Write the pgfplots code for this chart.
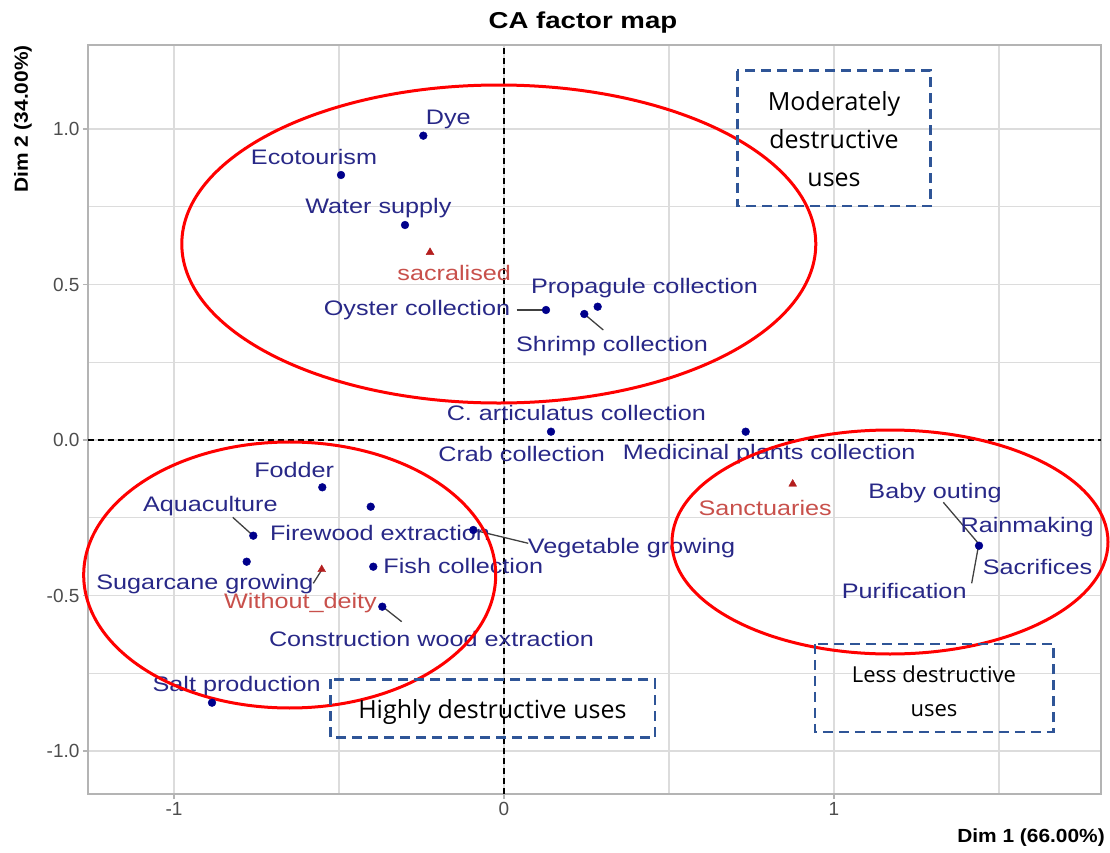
\documentclass[border=0pt]{standalone}
\usepackage{pgfplots}
\pgfplotsset{compat=1.18}
\usepackage{fontspec}
\usepackage{graphicx}
\setmainfont{Liberation Sans}
\newfontfamily\boxfont{Open Sans}
\definecolor{dotblue}{RGB}{0,0,139}
\definecolor{labblue}{RGB}{40,40,135}
\definecolor{trired}{RGB}{180,30,30}
\definecolor{labred}{RGB}{200,80,75}
\definecolor{boxblue}{RGB}{47,85,151}
\definecolor{gridgray}{RGB}{220,220,220}
\definecolor{bordergray}{RGB}{180,180,180}
\definecolor{ticktext}{RGB}{77,77,77}
\newcommand{\lab}[1]{\scalebox{1.2}[1]{\fontsize{21}{24}\selectfont #1}}
\newcommand{\boxtxt}[1]{\fontsize{25}{38}\selectfont\boxfont #1}

\pgfplotstableread{
x y
-0.2445 0.9785
-0.4939 0.8521
-0.3000 0.6913
0.1273 0.4180
0.2839 0.4286
0.2433 0.4051
0.1424 0.0267
0.7324 0.0267
1.4394 -0.3399
-0.5506 -0.1521
-0.4039 -0.2145
-0.0930 -0.2894
-0.7597 -0.3077
-0.7797 -0.3913
-0.3961 -0.4074
-0.3688 -0.5360
-0.8848 -0.8447
}\rowpts

\pgfplotstableread{
x y
-0.2242 0.6035
0.8748 -0.1415
-0.5524 -0.4164
}\colpts

\begin{document}
\begin{tikzpicture}[x=1pt,y=1pt]
\useasboundingbox (-88,-58) rectangle (1022,794);
\begin{axis}[
  anchor=south west, at={(0pt,0pt)}, scale only axis,
  width=1013pt, height=749pt,
  xmin=-1.2606, xmax=1.8091, ymin=-1.1383, ymax=1.2701,
  xtick={-1,0,1}, xticklabels={-1,0,1},
  ytick={-1,-0.5,0,0.5,1}, yticklabels={-1.0,-0.5,0.0,0.5,1.0},
  minor xtick={-0.5,0.5,1.5}, minor ytick={-0.75,-0.25,0.25,0.75},
  grid=both,
  major grid style={line width=1.3pt, color=gridgray},
  minor grid style={line width=1.1pt, color=gridgray},
  tick align=outside, major tick length=5pt, minor tick length=0pt,
  xtick pos=bottom, ytick pos=left,
  tick style={line width=1.2pt, color=bordergray},
  axis line style={line width=1.3pt, color=bordergray},
  ticklabel style={font=\fontsize{19}{21}\selectfont, text=ticktext},
  clip=false,
]
% zero reference lines
\addplot[black, line width=1.4pt, dash pattern=on 6pt off 4pt] coordinates {(0,-1.1383) (0,1.2701)};
\addplot[black, line width=1.4pt, dash pattern=on 6pt off 4pt] coordinates {(-1.2606,0) (1.8091,0)};

% points
\addplot[only marks, mark=*, mark size=3.9pt, mark options={draw=dotblue, fill=dotblue}] table {\rowpts};
\addplot[only marks, mark=triangle*, mark size=4.5pt, mark options={draw=trired, fill=trired}] table {\colpts};

% leader lines
\draw[black!75, line width=1.3pt] (axis cs:0.0385,0.418) -- (axis cs:0.1242,0.418);
\draw[black!75, line width=1.3pt] (axis cs:0.2433,0.4051) -- (axis cs:0.3009,0.3537);
\draw[black!75, line width=1.3pt] (axis cs:1.3312,-0.2003) -- (axis cs:1.4373,-0.3322);
\draw[black!75, line width=1.3pt] (axis cs:1.4373,-0.3431) -- (axis cs:1.4172,-0.4608);
\draw[black!75, line width=1.3pt] (axis cs:-0.8221,-0.2486) -- (axis cs:-0.7615,-0.3064);
\draw[black!75, line width=1.3pt] (axis cs:-0.5524,-0.418) -- (axis cs:-0.5779,-0.4608);
\draw[black!75, line width=1.3pt] (axis cs:-0.3676,-0.536) -- (axis cs:-0.3100,-0.5842);
\draw[black!75, line width=1.3pt] (axis cs:-0.093,-0.2894) -- (axis cs:0.0736,-0.3322);

% row labels
\begin{scope}[every node/.style={text=labblue, inner sep=0pt}]
\node at (axis cs:-0.1688,1.0312) {\lab{Dye}};
\node at (axis cs:-0.5758,0.9109) {\lab{Ecotourism}};
\node at (axis cs:-0.3808,0.7450) {\lab{Water supply}};
\node at (axis cs:-0.2636,0.4180) {\lab{Oyster collection}};
\node at (axis cs:0.4258,0.4878) {\lab{Propagule collection}};
\node at (axis cs:0.3273,0.3023) {\lab{Shrimp collection}};
\node at (axis cs:0.2192,0.0857) {\lab{C. articulatus collection}};
\node at (axis cs:0.0535,-0.0450) {\lab{Crab collection}};
\node at (axis cs:0.8035,-0.0450) {\lab{Medicinal plants collection}};
\node at (axis cs:1.3061,-0.1715) {\lab{Baby outing}};
\node at (axis cs:1.5854,-0.2787) {\lab{Rainmaking}};
\node at (axis cs:1.6167,-0.4073) {\lab{Sacrifices}};
\node at (axis cs:1.2127,-0.4855) {\lab{Purification}};
\node at (axis cs:-0.6358,-0.0965) {\lab{Fodder}};
\node at (axis cs:-0.8899,-0.2122) {\lab{Aquaculture}};
\node at (axis cs:-0.3758,-0.2980) {\lab{Firewood extraction}};
\node at (axis cs:0.3864,-0.3473) {\lab{Vegetable growing}};
\node at (axis cs:-0.9061,-0.4630) {\lab{Sugarcane growing}};
\node at (axis cs:-0.1233,-0.4051) {\lab{Fish collection}};
\node at (axis cs:-0.2197,-0.6409) {\lab{Construction wood extraction}};
\node at (axis cs:-0.8100,-0.7910) {\lab{Salt production}};
\end{scope}
% column labels
\begin{scope}[every node/.style={text=labred, inner sep=0pt}]
\node at (axis cs:-0.1509,0.5360) {\lab{sacralised}};
\node at (axis cs:0.7915,-0.2197) {\lab{Sanctuaries}};
\node at (axis cs:-0.6167,-0.5252) {\lab{Without\_deity}};
\end{scope}

% ellipses
\draw[red, line width=3pt] (axis cs:-0.0158,0.6302) ellipse [x radius=317pt, y radius=159pt];
\draw[red, line width=3pt] (axis cs:-0.6494,-0.4341) ellipse [x radius=206pt, y radius=133pt];
\draw[red, line width=3pt] (axis cs:1.1697,-0.3280) ellipse [x radius=218pt, y radius=112pt];

% dashed boxes
\draw[boxblue, line width=2.5pt, dash pattern=on 10pt off 6pt] (axis cs:0.7070,1.1875) rectangle (axis cs:1.2930,0.7524);
\draw[boxblue, line width=2.5pt, dash pattern=on 10pt off 6pt] (axis cs:0.9424,-0.6559) rectangle (axis cs:1.6645,-0.9389);
\draw[boxblue, line width=2.5pt, dash pattern=on 10pt off 6pt] (axis cs:-0.5252,-0.7695) rectangle (axis cs:0.4582,-0.9572);
\node[align=center, inner sep=0pt, font=\boxtxt{}] at (axis cs:1.0,0.9669) {Moderately\\destructive\\uses};
\node[align=center, inner sep=0pt, font={\fontsize{22}{34}\selectfont\boxfont}] at (axis cs:1.3030,-0.8071) {Less destructive\\uses};
\node[inner sep=0pt, font=\boxtxt{}] at (axis cs:-0.0352,-0.8736) {Highly destructive uses};

% title and axis labels
\node[inner sep=0pt] at (rel axis cs:0.4886,1.0300) {\scalebox{1.2}[1]{\fontsize{23}{26}\selectfont\bfseries CA factor map}};
\node[inner sep=0pt, anchor=east] at (rel axis cs:1.0039,-0.0587) {\scalebox{1.1}[1]{\fontsize{19}{22}\selectfont\bfseries Dim 1 (66.00\%)}};
\node[inner sep=0pt, anchor=east, rotate=90] at (rel axis cs:-0.0642,1.0) {\scalebox{1.1}[1]{\fontsize{19}{22}\selectfont\bfseries Dim 2 (34.00\%)}};
\end{axis}
\end{tikzpicture}
\end{document}
